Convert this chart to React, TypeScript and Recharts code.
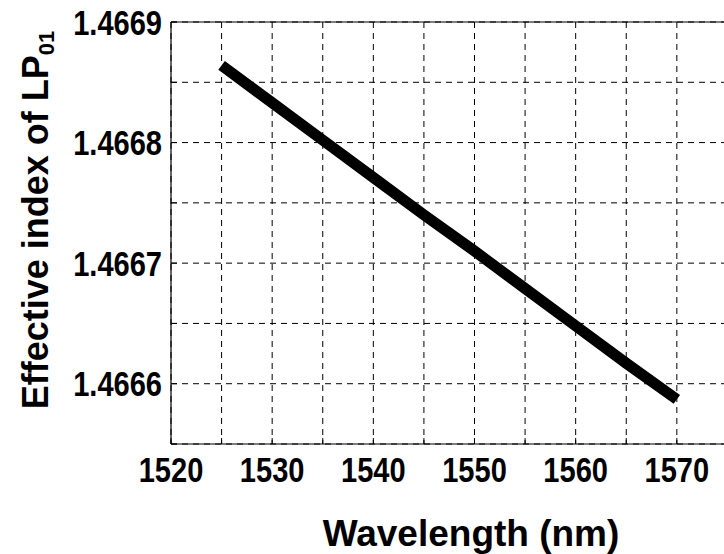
import { LineChart, Line, XAxis, YAxis, CartesianGrid, ReferenceLine } from 'recharts';

// values (LP01 effective index vs wavelength)
const wavelengths = [1525, 1530, 1535, 1540, 1545, 1550, 1555, 1560, 1565, 1570];
const effectiveIndex = [
  1.466864, 1.466833, 1.466802, 1.466771, 1.46674, 1.46671, 1.466679, 1.466648, 1.466617, 1.466587,
];

const xTicks = [1520, 1525, 1530, 1535, 1540, 1545, 1550, 1555, 1560, 1565, 1570, 1575, 1580];
const xLabels = [1520, 1530, 1540, 1550, 1560, 1570];
const yTicks = [1.46655, 1.4666, 1.46665, 1.4667, 1.46675, 1.4668, 1.46685, 1.4669];
const yLabels = ['1.4666', '1.4667', '1.4668', '1.4669'];

const data = wavelengths.map((w, i) => ({ wavelength: w, neff: effectiveIndex[i] }));

const font = "'Liberation Sans', Arial, sans-serif";
// tick numbers in the figure are set in a condensed face
const squeeze = 0.83;

function XTick({ x, payload }: any) {
  if (!xLabels.includes(payload.value)) return null;
  return (
    <text
      transform={`translate(${x}, 482) scale(${squeeze}, 1)`}
      textAnchor="middle"
      fontFamily={font}
      fontWeight="bold"
      fontSize={35}
      fill="#000"
    >
      {payload.value}
    </text>
  );
}

function YTick({ y, payload }: any) {
  const label = Number(payload.value).toFixed(4);
  if (!yLabels.includes(label) || Math.abs(payload.value - parseFloat(label)) > 1e-9) return null;
  return (
    <text
      transform={`translate(162, ${y + 12.5}) scale(${squeeze}, 1)`}
      textAnchor="end"
      fontFamily={font}
      fontWeight="bold"
      fontSize={35}
      fill="#000"
    >
      {label}
    </text>
  );
}

export default function App() {
  return (
    <div style={{ position: 'absolute', left: 0, top: 0, width: 724, height: 554, overflow: 'hidden', background: '#fff' }}>
      <LineChart width={800} height={554} data={data} margin={{ top: 22, right: 22, left: 0, bottom: 0 }}>
        <CartesianGrid stroke="#000" strokeWidth={1} strokeDasharray="6 5" />
        <XAxis
          dataKey="wavelength"
          type="number"
          domain={[1520, 1580]}
          ticks={xTicks}
          interval={0}
          height={110}
          tick={<XTick />}
          tickSize={-6}
          stroke="#000"
          axisLine={{ stroke: '#000', strokeWidth: 1.2 }}
        />
        <YAxis
          type="number"
          domain={[1.46655, 1.4669]}
          ticks={yTicks}
          interval={0}
          width={171}
          tick={<YTick />}
          tickSize={-6}
          stroke="#000"
          axisLine={{ stroke: '#000', strokeWidth: 1.2 }}
          allowDataOverflow
        />
        <ReferenceLine y={1.4669} stroke="#000" strokeWidth={1.2} />
        <Line
          type="linear"
          dataKey="neff"
          stroke="#000"
          strokeWidth={11}
          dot={false}
          isAnimationActive={false}
        />
        <text x={471} y={546} textAnchor="middle" fontFamily={font} fontWeight="bold" fontSize={37} fill="#000">
          Wavelength (nm)
        </text>
        <text
          x={48}
          y={220}
          transform="rotate(-90, 48, 220)"
          textAnchor="middle"
          fontFamily={font}
          fontWeight="bold"
          fontSize={36}
          fill="#000"
        >
          Effective index of LP
          <tspan fontSize={22} dy={6}>01</tspan>
        </text>
      </LineChart>
    </div>
  );
}
